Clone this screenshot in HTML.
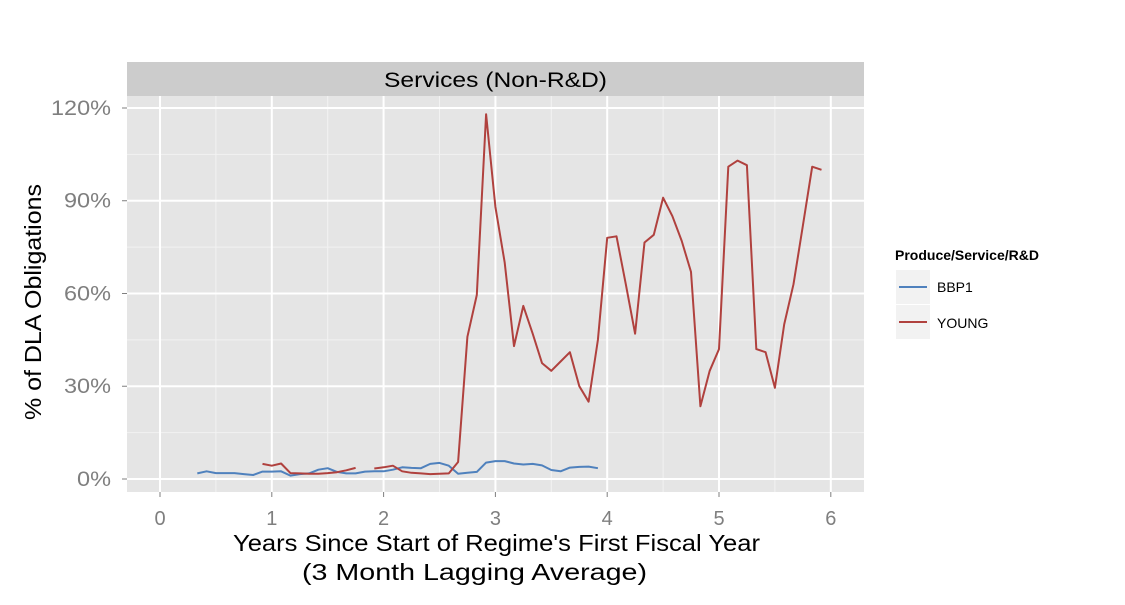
<!DOCTYPE html>
<html><head><meta charset="utf-8"><style>
body{margin:0;background:#fff;font-family:"Liberation Sans",Arial,sans-serif}
svg text{font-family:"Liberation Sans",Arial,sans-serif}
</style></head><body>
<svg id="c" width="1125" height="600" xmlns="http://www.w3.org/2000/svg">
<rect x="0" y="0" width="1125" height="600" fill="#fff"/>
<rect x="127" y="62" width="737" height="34" fill="#cccccc"/>
<text x="384" y="87" font-size="21" textLength="223" lengthAdjust="spacingAndGlyphs" fill="#000">Services (Non-R&amp;D)</text>
<rect x="127" y="96" width="737" height="396" fill="#e5e5e5"/>
<g id="grid"></g>
<g id="series"></g>
<g id="axes"></g>
<text x="233" y="551" font-size="23" textLength="527" lengthAdjust="spacingAndGlyphs" fill="#000">Years Since Start of Regime's First Fiscal Year</text>
<text x="302" y="580" font-size="23" textLength="345" lengthAdjust="spacingAndGlyphs" fill="#000">(3 Month Lagging Average)</text>
<text transform="translate(41,420) rotate(-90)" font-size="23" textLength="236" lengthAdjust="spacingAndGlyphs" fill="#000">% of DLA Obligations</text>
<text x="895" y="260" font-size="14" font-weight="bold" fill="#000">Produce/Service/R&amp;D</text>
<g>
<rect x="896" y="270" width="34" height="34" fill="#f2f2f2"/>
<line x1="899" y1="287" x2="927" y2="287" stroke="#4f81bd" stroke-width="2"/>
<text x="937" y="292" font-size="14" fill="#000">BBP1</text></g>
<g>
<rect x="896" y="305" width="34" height="34" fill="#f2f2f2"/>
<line x1="899" y1="322" x2="927" y2="322" stroke="#b0413e" stroke-width="2"/>
<text x="937" y="328" font-size="14" fill="#000">YOUNG</text></g>
</svg>
<script>
const xTicks=[0,1,2,3,4,5,6];
const yTicks=[0,30,60,90,120];
const yTickLabels=["0%","30%","60%","90%","120%"];
const bbp1Start=4;
const bbp1Values=[1.8,2.5,1.9,1.9,1.9,1.6,1.3,2.4,2.4,2.5,1.1,1.6,1.8,3.0,3.5,2.3,1.8,1.8,2.4,2.5,2.5,3.0,3.8,3.6,3.5,4.9,5.2,4.3,1.7,2.0,2.3,5.3,5.8,5.8,5.0,4.7,4.9,4.4,2.9,2.5,3.7,3.9,4.0,3.5];
const youngStart=11;
const youngValues=[4.9,4.3,5.0,1.9,1.8,1.7,1.7,1.9,2.2,2.8,3.6,null,3.4,3.8,4.3,2.5,2.0,1.8,1.6,1.7,1.8,5.5,46,59.5,118,88,70,43,56,47,37.5,35,38,41,30,25,45,78,78.5,63,47,76.5,79,91,85,77,67,23.5,35,42,101,103,101.5,42,41,29.5,50,63,82,101,100];
const xs=v=>160+v*111.8;
const ys=v=>479-v*3.0917;
const NS="http://www.w3.org/2000/svg";
function mk(t,a,p){const e=document.createElementNS(NS,t);for(const k in a)e.setAttribute(k,a[k]);p.appendChild(e);return e;}
const grid=document.getElementById('grid'),axes=document.getElementById('axes'),ser=document.getElementById('series');
for(let i=0;i<yTicks.length-1;i++){const l=mk('line',{x1:127,x2:864,y1:ys((yTicks[i]+yTicks[i+1])/2),y2:ys((yTicks[i]+yTicks[i+1])/2),stroke:'#f2f2f2','stroke-width':1},grid);

}
for(let i=0;i<xTicks.length-1;i++){const l=mk('line',{y1:96,y2:492,x1:xs(xTicks[i]+0.5),x2:xs(xTicks[i]+0.5),stroke:'#f2f2f2','stroke-width':1},grid);

}
yTicks.forEach((v,i)=>{const l=mk('line',{x1:127,x2:864,y1:ys(v),y2:ys(v),stroke:'#fff','stroke-width':2},grid);


const tk=mk('line',{x1:122,x2:127,y1:ys(v),y2:ys(v),stroke:'#7f7f7f','stroke-width':1},axes);


const lbl=yTickLabels[i];
const t=mk('text',{x:111,y:ys(v)+7,'font-size':21,'text-anchor':'end',fill:'#7f7f7f',textLength:(13*(lbl.length-1)+21),lengthAdjust:'spacingAndGlyphs'},axes);t.textContent=lbl;

});
xTicks.forEach(v=>{const l=mk('line',{y1:96,y2:492,x1:xs(v),x2:xs(v),stroke:'#fff','stroke-width':2},grid);


const tk=mk('line',{y1:492,y2:497,x1:xs(v),x2:xs(v),stroke:'#7f7f7f','stroke-width':1},axes);


const t=mk('text',{x:xs(v),y:525,'font-size':20,'text-anchor':'middle',fill:'#7f7f7f'},axes);t.textContent=String(v);

});
function drawSeries(start,vals,color,name){let d='',pen=false;
vals.forEach((v,i)=>{if(v===null){pen=false;return;}const x=xs((start+i)/12),y=ys(v);d+=(pen?'L':'M')+x.toFixed(1)+' '+y.toFixed(1)+' ';pen=true;});
const p=mk('path',{d:d,fill:'none',stroke:color,'stroke-width':2,'stroke-linejoin':'round'},ser);

}
drawSeries(bbp1Start,bbp1Values,'#4f81bd','bbp1-line');
drawSeries(youngStart,youngValues,'#b0413e','young-line');
</script>
</body></html>
